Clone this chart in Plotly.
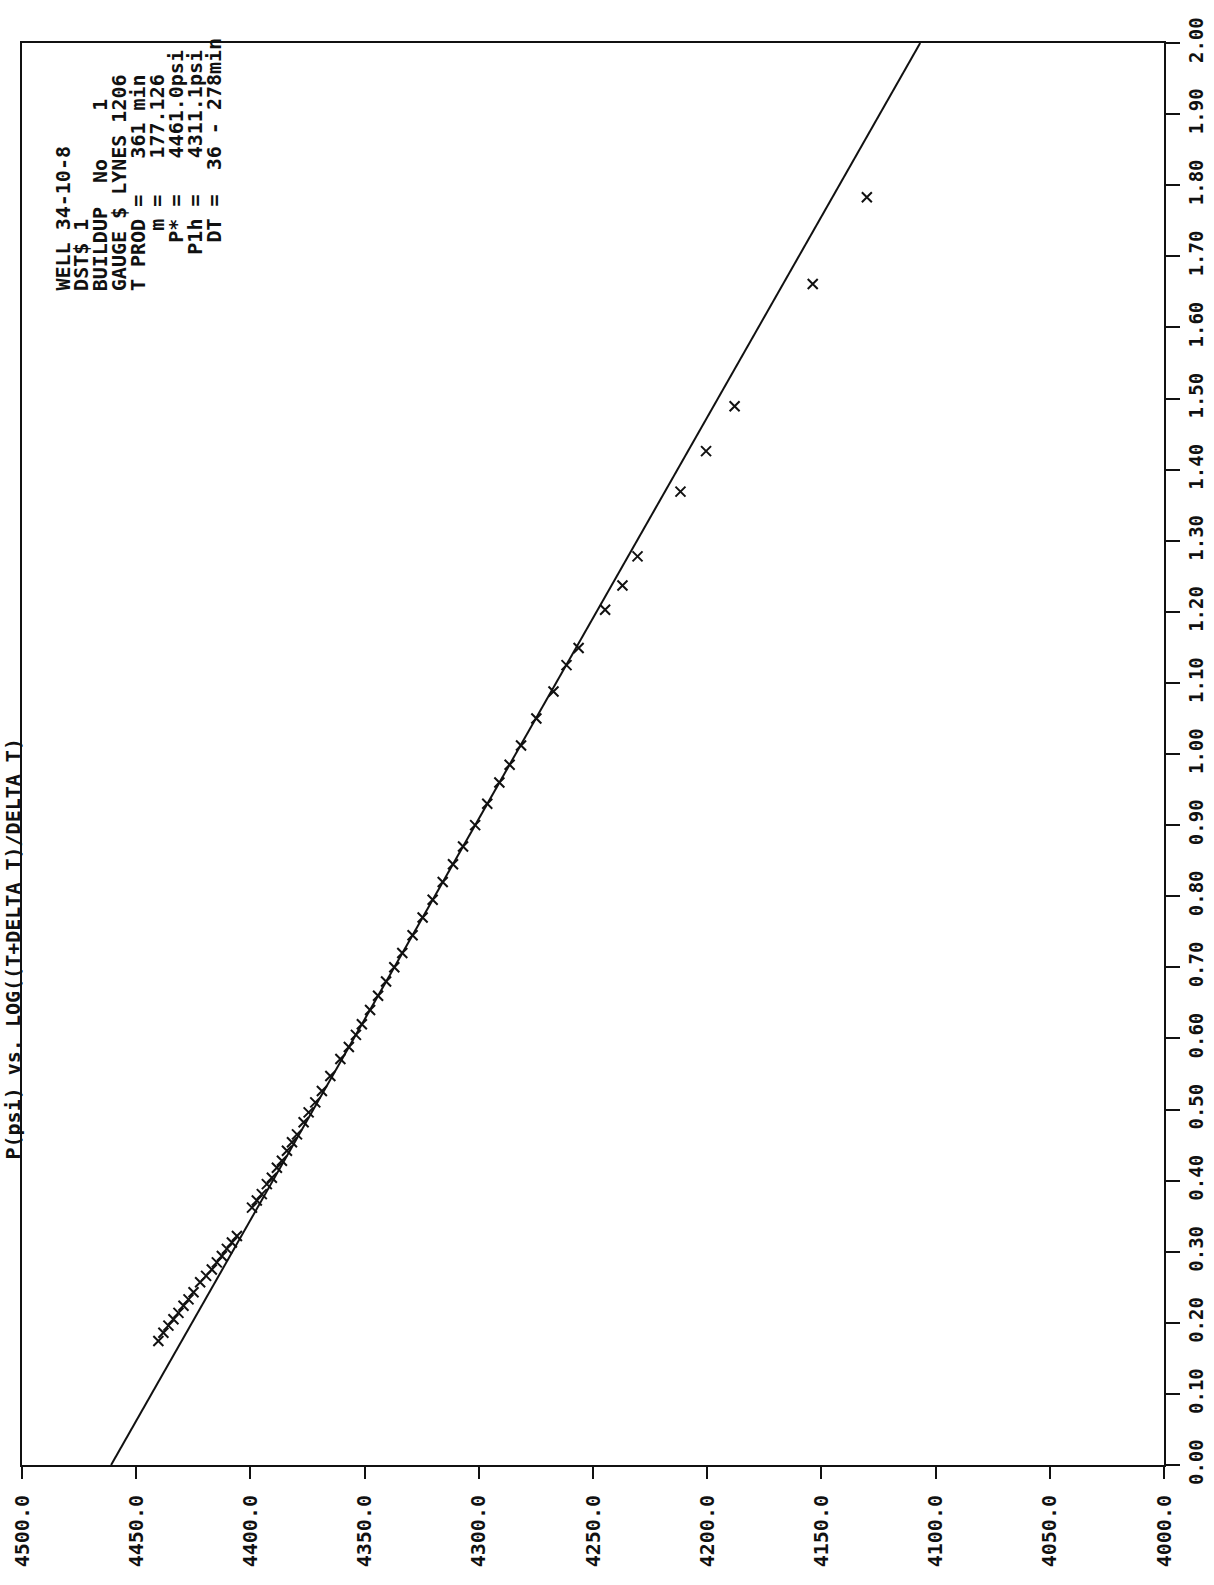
import plotly.graph_objects as go

# ---------------- data ----------------
# measured build-up points: Horner time X = log((T+dT)/dT) and pressure P (psi)
horner_x = [1.783, 1.661, 1.489, 1.426, 1.369, 1.278, 1.237, 1.203, 1.149, 1.125,
            1.088, 1.050, 1.012, 0.985, 0.960, 0.930, 0.900, 0.870, 0.845, 0.820,
            0.795, 0.770, 0.745, 0.720, 0.700, 0.680, 0.660, 0.640, 0.620, 0.605,
            0.588, 0.571, 0.547, 0.526, 0.510, 0.496, 0.482, 0.465, 0.454, 0.442,
            0.428, 0.418, 0.404, 0.395, 0.381, 0.372, 0.362,
            0.322, 0.313, 0.304, 0.294, 0.285, 0.275, 0.266, 0.257, 0.243, 0.233,
            0.224, 0.214, 0.205, 0.196, 0.186, 0.1745]
pressure = [4130.1, 4153.8, 4188.0, 4200.5, 4211.7, 4230.5, 4237.1, 4244.7, 4256.3, 4261.6,
            4267.3, 4274.8, 4281.5, 4286.5, 4291.0, 4296.3, 4301.6, 4306.9, 4311.3, 4315.8,
            4320.2, 4324.6, 4329.0, 4333.5, 4337.0, 4340.6, 4344.1, 4347.6, 4351.2, 4353.8,
            4356.9, 4360.6, 4365.0, 4368.7, 4371.6, 4374.5, 4376.7, 4379.6, 4381.8, 4384.0,
            4386.2, 4388.4, 4390.6, 4392.8, 4395.0, 4397.2, 4399.3,
            4405.9, 4408.1, 4410.3, 4412.5, 4414.7, 4416.9, 4419.4, 4422.0, 4424.9, 4427.1,
            4429.3, 4431.5, 4433.7, 4435.9, 4438.1, 4440.3]

# fitted straight line parameters
P_STAR = 4461.0      # psi, extrapolated pressure at X = 0
SLOPE_M = 177.126    # psi per log cycle
line_x = [0.0, 2.0]

# axis ticks
p_ticks = [4500, 4450, 4400, 4350, 4300, 4250, 4200, 4150, 4100, 4050, 4000]
x_ticks = [0.0, 0.1, 0.2, 0.3, 0.4, 0.5, 0.6, 0.7, 0.8, 0.9, 1.0,
           1.1, 1.2, 1.3, 1.4, 1.5, 1.6, 1.7, 1.8, 1.9, 2.0]

title_text = "P(psi) vs. LOG((T+DELTA T)/DELTA T)"
info_lines = [
    "WELL 34-10-8",
    "DST$ 1",
    "BUILDUP  No    1",
    "GAUGE $ LYNES 1206",
    "T PROD =   361 min",
    "     m =   177.126",
    "    P* =   4461.0psi",
    "   P1h =   4311.1psi",
    "    DT =  36 - 278min",
]

# ---------------- figure ----------------
W, H = 1214, 1585
L, T = 22, 43
R = W - 1164
B = H - 1465
INK = "#111111"
FONT = dict(family="DejaVu Sans Mono", size=20, color=INK, weight="bold")
YFONT = dict(family="DejaVu Sans Mono", size=19, color=INK, weight="bold")

line_p = [P_STAR - SLOPE_M * v for v in line_x]

fig = go.Figure()
fig.add_trace(go.Scatter(x=line_p, y=line_x, mode="lines",
                         line=dict(color=INK, width=2), hoverinfo="skip"))
fig.add_trace(go.Scatter(x=pressure, y=horner_x, mode="markers",
                         marker=dict(symbol="x-thin", size=10,
                                     line=dict(width=2, color=INK))))

fig.update_layout(
    width=W, height=H,
    margin=dict(l=L, r=R, t=T, b=B),
    paper_bgcolor="white", plot_bgcolor="white",
    showlegend=False,
    font=FONT,
)
fig.update_xaxes(
    range=[4500, 4000], tickvals=p_ticks,
    ticktext=[f"{v:.1f}" for v in p_ticks],
    tickangle=-90, ticks="outside", ticklen=12, tickwidth=2, tickcolor=INK,
    ticklabelstandoff=8, automargin=False,
    showline=True, linecolor=INK, linewidth=2, mirror=True,
    showgrid=False, zeroline=False, tickfont=FONT,
)
fig.update_yaxes(
    range=[0, 2], tickvals=x_ticks,
    ticktext=[f"{v:.2f}" for v in x_ticks],
    side="right", tickangle=-90, ticks="outside", ticklen=14, tickwidth=2,
    tickcolor=INK, automargin=False,
    showline=True, linecolor=INK, linewidth=2, mirror=True,
    showgrid=False, zeroline=False, tickfont=YFONT,
)

pw, ph = W - L - R, H - T - B

# helpers: page pixel -> paper coordinate
def px(xp):
    return (xp - L) / pw

def py(yp):
    return (H - B - yp) / ph

# title (rotated, left of frame)
fig.add_annotation(text=title_text, xref="paper", yref="paper",
                   x=px(12), y=py(1162), xanchor="center", yanchor="bottom",
                   textangle=-90, showarrow=False, font=FONT)

# info block (each line its own rotated column)
col_x0, col_dx = 62, 18.9
for i, s in enumerate(info_lines):
    fig.add_annotation(text=s.replace(" ", "\u00a0"), xref="paper", yref="paper",
                       x=px(col_x0 + i * col_dx), y=py(293),
                       xanchor="center", yanchor="bottom", align="left",
                       textangle=-90, showarrow=False, font=FONT)

fig.write_html("out.html",
               config={"displayModeBar": False},
               post_script="document.body.style.margin='0';"
                           "document.documentElement.style.overflow='hidden';")
